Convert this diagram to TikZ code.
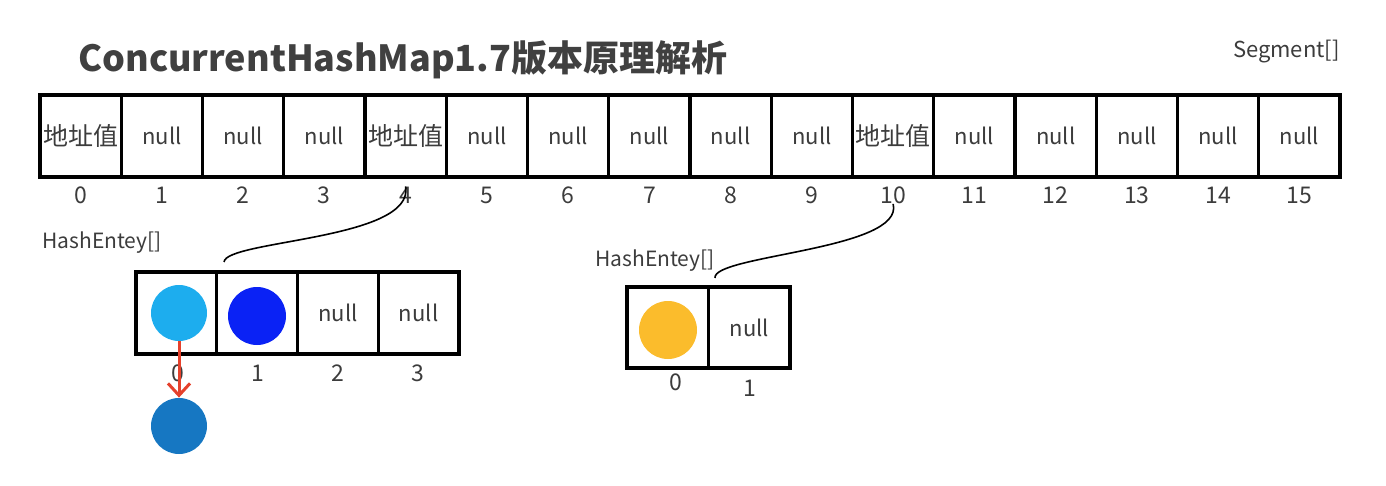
\documentclass[tikz,border=0pt]{standalone}
\usepackage{fontspec}
\setmainfont{Noto Sans CJK SC}
\usepackage{tikz}
\usetikzlibrary{arrows.meta}
\definecolor{inkgray}{HTML}{3C3C3C}
\definecolor{titlegray}{HTML}{404040}
\definecolor{headdot}{HTML}{1DADEE}
\definecolor{seconddot}{HTML}{0A22F5}
\definecolor{chaindot}{HTML}{1677C2}
\definecolor{yellowdot}{HTML}{FBBC2C}
\definecolor{chainred}{HTML}{E5412C}
\newcommand{\addrtxt}{{\fontsize{12.5}{14}\selectfont 地址值}}

\begin{document}
\begin{tikzpicture}[x=0.5pt, y=-0.5pt,
    cell/.style={draw, line width=1.6pt, minimum width=40.6pt, minimum height=41pt,
        inner sep=0pt, outer sep=0pt, text=inkgray, font=\fontsize{11}{13}\selectfont},
    idx/.style={inner sep=0pt, text=inkgray, font=\fontsize{11.5}{13}\selectfont},
    label/.style={anchor=west, inner sep=0pt, text=inkgray, font=\fontsize{10.5}{12}\selectfont},
    dot/.style={circle, inner sep=0pt, minimum size=28pt},
    link/.style={line width=0.8pt, black}]
        \useasboundingbox (0,0) rectangle (1386,486);

        % title and Segment[]
        \node[anchor=west, inner sep=0pt, text=titlegray, font=\bfseries\fontsize{18}{20}\selectfont] (title) at (78,60) {ConcurrentHashMap1.7版本原理解析};
        \node[anchor=east, inner sep=0pt, text=inkgray, font=\fontsize{11}{13}\selectfont] (seglbl) at (1340,52) {Segment[]};

        % segment array
        \foreach \i in {0,...,15} {
            \node[cell] (s\i) at ({40+81.25*(\i+0.5)},136) {\ifnum\i=0 \addrtxt\else\ifnum\i=4 \addrtxt\else\ifnum\i=10 \addrtxt\else null\fi\fi\fi};
            \node[idx] (i\i) at ({40+81.25*(\i+0.5)},195) {\i};
        }

        % first HashEntey[]
        \node[label] (hlbl1) at (42,243) {HashEntey[]};
        \foreach \i in {0,...,3} {
            \node[cell, minimum width=40.4pt] (a\i) at ({136+80.75*(\i+0.5)},313) {\ifnum\i>1 null\fi};
            \node[idx] (ai\i) at ({138+80*(\i+0.5)},373) {\i};
        }
        \node[dot, fill=headdot] (d0) at (179,313) {};
        \node[dot, fill=seconddot, minimum size=29pt] (d1) at (257,316) {};
        \node[dot, fill=chaindot] (d2) at (179,426) {};
        \draw[line width=1.5pt, chainred, -{Straight Barb[length=6pt,width=11pt]}] (d0.south) -- (d2.north);

        % second HashEntey[]
        \node[label] (hlbl2) at (595,261) {HashEntey[]};
        \node[cell, minimum width=40.75pt, minimum height=40.5pt] (b0) at (667.75,327.5) {};
        \node[cell, minimum width=40.75pt, minimum height=40.5pt] (b1) at (749.25,327.5) {null};
        \node[idx] (bi0) at (676,382) {0};
        \node[idx] (bi1) at (750,388) {1};
        \node[dot, fill=yellowdot, minimum size=29pt] (d3) at (668,330) {};

        % links from segment to entry arrays
        \coordinate (head1) at (224,262);
        \coordinate (head2) at (715,278);
        \draw[link] (i4.north) .. controls (415,240) and (226,240) .. (head1);
        \draw[link] (i10.south) .. controls (905,250) and (712,255) .. (head2);
\end{tikzpicture}
\end{document}
